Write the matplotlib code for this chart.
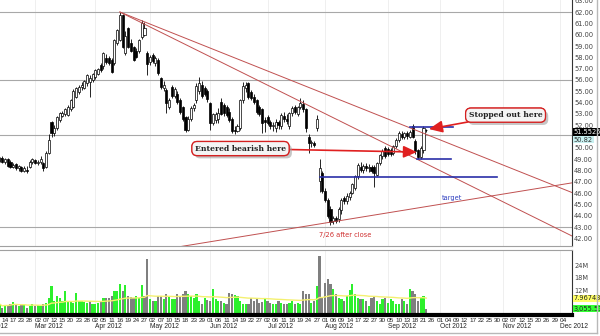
import numpy as np
import pandas as pd
import matplotlib
matplotlib.use('Agg')
import matplotlib.pyplot as plt
from matplotlib import transforms, patheffects

# trading calendar (exchange holidays are skipped by the charting package)
holidays = ['2012-02-20', '2012-04-06', '2012-05-28', '2012-07-04',
            '2012-09-03', '2012-11-22', '2012-12-25']
first_candle = '2012-02-10'
first_label = '2012-02-14'   # day labels every 3 sessions from here
last_label = '2012-12-04'

# daily OHLC
open_ = [49.0, 49.1, 48.8, 49.0, 48.8, 48.3, 48.6, 48.2, 48.3, 48.0,
         48.1, 48.3, 48.8, 48.9, 48.7, 48.8, 48.7, 48.3, 49.6, 52.3,
         51.3, 51.8, 52.5, 52.8, 53.0, 52.9, 53.4, 53.6, 54.5, 54.9,
         55.4, 55.3, 55.7, 55.8, 56.0, 56.3, 56.5, 57.3, 57.2, 57.9,
         57.9, 57.8, 57.5, 59.3, 59.5, 61.7, 58.4, 60.6, 59.3, 58.9,
         58.6, 58.6, 59.8, 60.0, 58.4, 57.6, 58.2, 57.5, 57.8, 56.2,
         55.3, 55.1, 53.6, 55.4, 54.6, 54.8, 54.2, 53.6, 52.7, 51.6,
         52.6, 53.5, 54.2, 55.0, 55.6, 55.3, 55.0, 54.0, 52.2, 52.5,
         52.6, 54.1, 53.8, 53.6, 53.2, 52.6, 51.6, 51.5, 51.8, 54.2,
         55.3, 55.7, 54.9, 54.5, 54.2, 53.6, 53.4, 52.5, 52.7, 52.3,
         51.9, 51.8, 52.3, 51.9, 52.8, 52.6, 51.9, 53.1, 53.6, 53.0,
         53.6, 53.9, 53.4, 51.0, 50.4, 50.4, 51.8, 47.1, 47.8, 46.2,
         45.4, 44.6, 43.6, 43.8, 43.7, 44.5, 45.6, 45.3, 45.7, 46.0,
         46.5, 47.5, 48.3, 48.1, 48.4, 48.2, 48.3, 48.3, 47.6, 48.7,
         49.3, 50.0, 49.9, 49.8, 49.6, 50.2, 50.7, 51.2, 51.0, 51.3,
         51.0, 51.9, 50.6, 49.8, 49.2, 49.8, 51.55]
high = [49.2, 49.3, 49.1, 49.1, 48.9, 48.7, 48.7, 48.5, 48.4, 48.4,
        48.4, 48.9, 49.1, 49.0, 48.9, 49.3, 48.8, 49.7, 51.2, 52.4,
        52.0, 52.8, 53.2, 53.3, 53.5, 53.8, 54.3, 55.2, 55.4, 55.6,
        55.8, 56.0, 56.5, 56.4, 56.6, 57.0, 57.1, 57.5, 58.5, 58.3,
        58.1, 57.9, 59.6, 60.5, 62.0, 61.8, 60.3, 60.7, 59.6, 59.0,
        58.8, 59.6, 61.3, 61.1, 58.6, 58.2, 58.4, 58.1, 57.9, 56.3,
        55.9, 55.3, 54.4, 55.6, 55.4, 55.0, 54.4, 53.7, 52.8, 52.8,
        53.7, 54.0, 55.7, 56.3, 55.9, 55.5, 55.2, 54.1, 53.1, 53.2,
        53.5, 54.4, 54.0, 53.8, 53.5, 52.7, 51.9, 52.1, 54.3, 55.8,
        55.8, 55.8, 55.1, 54.8, 54.3, 53.8, 53.5, 52.7, 52.9, 52.5,
        52.3, 52.6, 52.5, 53.1, 53.2, 53.0, 53.2, 53.7, 53.8, 53.7,
        54.4, 54.2, 53.5, 51.2, 50.7, 50.6, 52.9, 49.0, 48.0, 46.5,
        45.6, 44.9, 44.0, 44.0, 44.8, 45.6, 45.8, 46.0, 46.2, 46.9,
        47.6, 48.7, 48.8, 48.6, 48.7, 48.6, 48.5, 48.5, 48.8, 49.5,
        49.9, 50.2, 50.1, 50.0, 50.3, 50.9, 51.5, 51.5, 51.4, 51.5,
        51.6, 52.1, 50.8, 49.9, 50.2, 51.9, 51.7]
low = [48.8, 48.7, 48.6, 48.3, 48.2, 48.2, 48.1, 48.0, 47.9, 47.9,
       47.8, 48.2, 48.6, 48.6, 48.5, 48.6, 48.0, 48.2, 49.5, 51.0,
       51.1, 51.6, 52.3, 52.7, 52.8, 52.8, 53.3, 53.5, 54.4, 54.8,
       55.1, 55.2, 55.5, 54.5, 55.8, 56.1, 56.4, 56.7, 57.0, 57.4,
       57.3, 56.6, 57.3, 59.1, 59.4, 58.8, 58.2, 58.8, 58.5, 57.7,
       57.9, 58.4, 59.6, 59.9, 56.4, 57.3, 57.5, 57.2, 56.4, 55.2,
       55.0, 53.1, 53.4, 54.4, 54.4, 53.9, 53.0, 52.4, 51.4, 51.5,
       52.4, 53.3, 54.0, 54.8, 54.4, 54.6, 54.1, 51.6, 52.0, 52.2,
       52.2, 52.9, 52.8, 52.7, 52.3, 51.3, 51.2, 51.4, 51.6, 54.0,
       54.9, 54.3, 54.2, 53.9, 53.0, 52.8, 51.3, 51.4, 52.0, 51.7,
       51.5, 51.4, 51.7, 51.7, 52.3, 52.1, 51.7, 52.8, 53.0, 52.8,
       53.4, 53.2, 51.4, 49.6, 50.1, 50.1, 51.5, 46.1, 46.0, 45.2,
       43.8, 43.2, 43.3, 43.4, 43.5, 44.2, 45.1, 45.1, 45.4, 45.9,
       46.3, 47.3, 47.9, 47.8, 48.0, 47.9, 47.8, 46.6, 47.5, 48.5,
       49.0, 49.1, 49.3, 49.3, 49.4, 50.0, 50.5, 50.8, 50.8, 50.8,
       50.9, 50.9, 49.5, 49.0, 49.0, 49.6, 51.4]
close = [49.1, 48.8, 49.0, 48.4, 48.3, 48.5, 48.2, 48.4, 48.0, 48.2,
         48.0, 48.8, 49.0, 48.7, 48.8, 49.0, 48.2, 49.6, 50.7, 51.3,
         51.8, 52.7, 53.1, 53.1, 53.4, 53.6, 54.2, 55.0, 55.3, 55.4,
         55.6, 55.9, 56.4, 56.2, 56.5, 56.9, 57.0, 56.9, 58.4, 57.6,
         57.5, 56.7, 59.5, 60.4, 61.7, 58.9, 59.9, 58.9, 58.6, 57.8,
         58.0, 59.5, 61.0, 60.6, 57.4, 58.0, 57.7, 57.9, 56.6, 55.4,
         55.6, 54.0, 54.2, 54.6, 55.2, 54.1, 53.2, 52.6, 51.6, 52.6,
         53.5, 53.8, 55.5, 55.7, 54.6, 54.8, 54.3, 52.2, 53.0, 53.0,
         53.1, 53.0, 53.1, 52.9, 52.5, 51.5, 51.5, 51.9, 54.2, 55.5,
         55.6, 54.5, 54.4, 54.1, 53.2, 53.0, 52.2, 52.3, 52.2, 51.9,
         52.0, 52.3, 52.0, 52.9, 52.6, 52.4, 53.1, 53.5, 53.2, 53.6,
         54.0, 53.4, 51.8, 50.4, 50.5, 50.3, 52.6, 48.2, 46.2, 45.4,
         44.0, 43.5, 43.8, 43.6, 44.6, 45.4, 45.3, 45.8, 46.0, 46.8,
         47.5, 48.5, 48.1, 48.4, 48.2, 48.3, 48.0, 47.8, 48.7, 49.4,
         49.7, 49.3, 49.5, 49.5, 50.2, 50.7, 51.3, 51.0, 51.3, 51.1,
         51.4, 51.0, 49.7, 49.2, 50.0, 51.8, 51.55]
# volume, millions of shares
volume = [5.3, 3.5, 5.0, 4.5, 5.5, 6.4, 5.1, 4.3, 5.1, 4.7,
          3.5, 4.3, 5.1, 4.3, 4.6, 4.3, 5.1, 5.9, 8.3, 13.9,
          6.7, 9.1, 8.3, 6.7, 11.5, 6.7, 6.2, 5.9, 10.7, 6.7,
          6.7, 6.4, 5.9, 6.7, 5.1, 5.4, 5.9, 6.7, 8.3, 8.3,
          8.0, 9.1, 11.5, 11.5, 14.7, 11.5, 14.3, 9.1, 8.7, 8.3,
          9.1, 8.3, 14.3, 9.0, 27.0, 7.5, 6.7, 6.7, 9.1, 9.1,
          7.5, 9.9, 8.5, 7.5, 7.5, 9.9, 9.1, 9.9, 11.5, 9.9,
          9.1, 8.0, 9.9, 6.7, 5.1, 8.3, 7.0, 6.7, 12.3, 7.5,
          6.7, 6.7, 6.0, 5.1, 10.7, 9.9, 9.5, 9.1, 6.7, 5.1,
          5.1, 5.5, 8.3, 6.7, 7.5, 5.9, 6.2, 8.3, 6.7, 5.9,
          5.1, 5.5, 6.7, 5.9, 5.1, 5.5, 5.9, 6.7, 5.1, 5.9,
          5.1, 11.5, 10.2, 9.9, 5.9, 6.7, 13.9, 28.4, 8.3, 15.5,
          17.1, 14.7, 12.3, 9.9, 8.3, 7.5, 6.7, 9.1, 12.0, 14.7,
          9.9, 8.3, 7.5, 7.8, 6.7, 4.3, 8.0, 9.1, 6.7, 5.1,
          7.5, 8.3, 5.9, 7.5, 6.7, 5.5, 5.1, 7.5, 6.7, 5.1,
          12.3, 11.5, 9.9, 6.7, 8.0, 9.1, 3.06]

month_names = ['Feb 2012', 'Mar 2012', 'Apr 2012', 'May 2012', 'Jun 2012', 'Jul 2012',
               'Aug 2012', 'Sep 2012', 'Oct 2012', 'Nov 2012', 'Dec 2012']
gray_levels = [62.0, 56.0, 51.15, 43.0]
price_ticks = [42, 43, 44, 45, 46, 47, 48, 49, 50, 52, 53, 54, 55, 56, 57, 58, 59, 60, 61, 62, 63]
vol_ticks = [12, 18, 24]
# trend lines: (session index, price) pairs, session 0 = Feb 14
trend_lines = [((42, 62.0), (208, 46.0)),
               ((42, 62.0), (208, 42.15)),
               ((40, 40.35), (208, 46.95))]
# blue levels: (price, from session, to session)
blue_levels = [(47.44, 115.2, 179.9), (51.85, 148.1, 163.8), (49.03, 150.6, 163.2)]

# ---- calendar positions
cal = pd.offsets.CustomBusinessDay(holidays=holidays)
days = pd.date_range('2012-01-25', '2012-12-31', freq=cal)
pos = pd.Series(np.arange(len(days)), index=days)
pos = pos - pos[pd.Timestamp(first_label)]
x = pos[pd.Timestamp(first_candle)] + np.arange(len(close))

o = np.array(open_); h = np.array(high); l = np.array(low); c = np.array(close)
up = c >= o

fig = plt.figure(figsize=(6, 3.36), dpi=100)
W, H = 600.0, 336.0
ax = fig.add_axes([0, 1 - 246 / H, 572 / W, 246 / H])
axv = fig.add_axes([0, 1 - 315 / H, 572 / W, 65 / H], sharex=ax)
ax.set_xlim(-1.83, 207.3)
ax.set_ylim(41.35, 63.06)
axv.set_ylim(0, 31.25)

# month grid
month_start = days.to_series().groupby(days.to_period('M')).first()
month_start = month_start[month_start >= pd.Timestamp('2012-02-01')]
for d in month_start:
    for a in (ax, axv):
        a.axvline(pos[d], color='#ececec', lw=0.6, zorder=0)

for lv in gray_levels:
    ax.axhline(lv, color='#a8a8a8', lw=0.8, zorder=1)

# candles
ax.vlines(x, l, h, color='black', lw=0.6, zorder=2)
ax.bar(x, np.maximum(np.abs(c - o), 0.03), bottom=np.minimum(o, c), width=0.75,
       color=np.where(up, 'white', 'black'), edgecolor='black', linewidth=0.5, zorder=3)

for (x0, y0), (x1, y1) in trend_lines:
    ax.plot([x0, x1], [y0, y1], color='#c05050', lw=0.7, zorder=4)
for lv, x0, x1 in blue_levels:
    ax.plot([x0, x1], [lv, lv], color='#2a2fa8', lw=1.2, zorder=4)

ax.text(163.4, 45.58, 'target', color='#3040c0', fontsize=4.8, ha='center', va='center')
ax.text(124.3, 42.32, '7/26 after close', color='#d03030', fontsize=4.8, ha='center', va='center')

# annotation boxes with drop shadow
notes = [('Entered bearish here', (86.1, 49.95), (150.6, 49.64)),
         ('Stopped out here', (183.0, 52.9), (155.0, 51.67))]
for txt, xyt, xy in notes:
    ann = ax.annotate(txt, xy=xy, xytext=xyt, ha='center', va='center', fontsize=5.5,
                      fontweight='bold', family='DejaVu Serif', color='#222222', zorder=6,
                      bbox=dict(boxstyle='round,pad=0.4,rounding_size=0.7', fc='#f4f4f4',
                                ec='#d42020', lw=0.9),
                      arrowprops=dict(arrowstyle='-|>,head_length=0.9,head_width=0.4',
                                      color='#e02020', lw=1.2, shrinkA=0, shrinkB=0,
                                      mutation_scale=9))
    ann.get_bbox_patch().set_path_effects([
        patheffects.withSimplePatchShadow(offset=(2, -2), shadow_rgbFace='#a0a0a0', alpha=0.6),
        patheffects.Normal()])

# price axis on right
ax.yaxis.tick_right()
ax.set_yticks(price_ticks)
ax.set_yticklabels(['%.2f' % t for t in price_ticks])
ax.tick_params(axis='y', length=0, pad=1.5, labelsize=4.8, labelcolor='#444444')
ax.tick_params(axis='x', length=0, labelbottom=False)
for s in ('top', 'left'):
    ax.spines[s].set_visible(False)
ax.spines['right'].set_color('#333333'); ax.spines['right'].set_linewidth(0.8)
ax.spines['bottom'].set_color('#a0a0a0')

side = transforms.blended_transform_factory(ax.transAxes, ax.transData)
ax.text(1.003, 51.41, '51.5525', transform=side, color='white', fontsize=4.8, va='center',
        bbox=dict(fc='black', ec='none', pad=0.5))
ax.text(1.003, 50.72, '50.82', transform=side, color='#333333', fontsize=4.8, va='center',
        bbox=dict(fc='#c8f0f0', ec='none', pad=0.5))

# volume
prev = np.concatenate([[c[0]], c[:-1]])
vcol = np.where(c >= prev, '#2cf02c', '#7f7f7f')
axv.bar(x, volume, width=0.8, color=vcol, zorder=2)
ma = pd.Series(volume).ewm(span=50).mean()
axv.plot(x, ma, color='#f4f070', lw=1.0, zorder=3)
axv.yaxis.tick_right()
axv.set_yticks(vol_ticks)
axv.set_yticklabels(['%dM' % t for t in vol_ticks])
axv.tick_params(axis='y', length=0, pad=1.5, labelsize=4.8, labelcolor='#444444')
axv.tick_params(axis='x', length=0, labelbottom=False)
axv.spines['left'].set_visible(False)
axv.spines['top'].set_color('#a0a0a0')
axv.spines['right'].set_color('#333333'); axv.spines['right'].set_linewidth(0.8)
axv.spines['bottom'].set_color('black'); axv.spines['bottom'].set_linewidth(3)
vside = transforms.blended_transform_factory(axv.transAxes, axv.transData)
axv.text(1.003, 7.97, '7.96743', transform=vside, color='#222222', fontsize=4.8, va='center',
         bbox=dict(fc='#ffff66', ec='none', pad=0.5))
axv.text(1.003, 3.06, '3,055.53', transform=vside, color='#222222', fontsize=4.8, va='center',
         bbox=dict(fc='#33ff33', ec='none', pad=0.5))

# date labels
bottom = transforms.blended_transform_factory(axv.transData, fig.transFigure)
lab_days = days[(days >= first_label) & (days <= last_label)][::3]
for d in lab_days:
    fig.text(pos[d], 1 - 320 / H, d.strftime('%d'), transform=bottom, ha='center', va='center',
             fontsize=4.6, family='Liberation Sans', color='#222222')
for name, d in zip(month_names, month_start):
    fig.text(pos[d], 1 - 326.5 / H, name, transform=bottom, ha='left', va='center',
             fontsize=4.8, family='Liberation Sans', color='#222222')

# outer frame
fig.add_artist(plt.Line2D([597 / W, 597 / W], [1 - 333 / H, 1], color='#b8b8b8', lw=1))
fig.add_artist(plt.Line2D([0, 597 / W], [1 - 333 / H, 1 - 333 / H], color='#b8b8b8', lw=1))

fig.savefig('out.png', dpi=100)
